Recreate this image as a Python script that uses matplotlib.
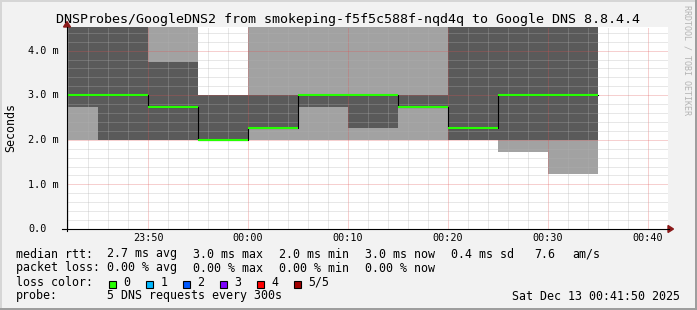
import matplotlib
matplotlib.use("Agg")
import matplotlib.pyplot as plt
from matplotlib import transforms
from matplotlib.lines import Line2D
from matplotlib.patches import Rectangle, Polygon

# 5 min steps, minutes relative to 00:00 (first step starts left of the graph)
step_edges = [-20, -15, -10, -5, 0, 5, 10, 15, 20, 25, 30, 35]
# sorted pings per step in ms (4.8 = above the top of the graph)
ping1 = [2.00, 2.00, 2.00, 2.00, 2.00, 2.00, 2.00, 2.00, 2.00, 1.73, 1.24]
ping2 = [2.73, 2.00, 2.00, 2.00, 2.26, 2.73, 2.26, 2.73, 2.00, 2.00, 2.00]
median = [3.00, 3.00, 2.73, 2.00, 2.26, 3.00, 3.00, 2.73, 2.26, 3.00, 3.00]
ping4 = [4.80, 4.80, 3.75, 3.00, 3.00, 3.00, 3.00, 3.00, 4.80, 4.80, 4.80]
ping5 = [4.80, 4.80, 4.80, 3.00, 4.80, 4.80, 4.80, 4.80, 4.80, 4.80, 4.80]

x_ticks = [-10, 0, 10, 20, 30, 40]
x_labels = ["23:50", "00:00", "00:10", "00:20", "00:30", "00:40"]
y_ticks = [0, 1, 2, 3, 4]
y_labels = ["0.0", "1.0 m", "2.0 m", "3.0 m", "4.0 m"]

title = "DNSProbes/GoogleDNS2 from smokeping-f5f5c588f-nqd4q to Google DNS 8.8.4.4"
rtt_stats = ["2.7 ms avg", "3.0 ms max", "2.0 ms min", "3.0 ms now", "0.4 ms sd", "7.6", "am/s"]
loss_stats = ["0.00 % avg", "0.00 % max", "0.00 % min", "0.00 % now"]
loss_labels = ["0", "1", "2", "3", "4", "5/5"]
loss_colors = ["#26ff00", "#00b8ff", "#0059ff", "#7e00ff", "#ff0000", "#a10000"]
probe_text = "5 DNS requests every 300s"
date_text = "Sat Dec 13 00:41:50 2025"

MONO = "DejaVu Sans Mono"
W, H = 697, 310


def fx(px):
    return px / W


def fy(py):
    return 1 - py / H


fig = plt.figure(figsize=(6.97, 3.10), dpi=100, facecolor="#f2f2f2")
ax = fig.add_axes([fx(67), fy(229), (668 - 67) / W, (229 - 27) / H])
ax.set_facecolor("white")
ax.set_xlim(-18.1, 42.0)
ax.set_ylim(0, 4.53)


def ext(v):
    return list(v) + [v[-1]]


# smoke
ax.fill_between(step_edges, ext(ping1), ext(ping5), step="post",
                color="#a2a2a2", lw=0, zorder=1)
ax.fill_between(step_edges, ext(ping2), ext(ping4), step="post",
                color="#5a5a5a", lw=0, zorder=1.1)

# median line
ax.step(step_edges, ext(median), where="post", color="black", lw=0.8, zorder=3)
ax.hlines(median, step_edges[:-1], step_edges[1:], color="#26ff00", lw=1.5, zorder=4)

# grid
ax.set_xticks(x_ticks)
ax.set_xticks(range(-18, 43, 2), minor=True)
ax.set_yticks(y_ticks)
ax.set_yticks([i * 0.2 for i in range(23)], minor=True)
ax.set_axisbelow(False)
ax.grid(which="minor", color="#b0b0b0", alpha=0.6, lw=0.72, linestyle=(0, (1, 1)))
ax.grid(which="major", color="#e05050", alpha=0.55, lw=0.72, linestyle=(0, (1, 1)))
ax.tick_params(which="both", length=0, labelbottom=False, labelleft=False)
for s in ax.spines.values():
    s.set_visible(False)

# axis lines + arrows
fig.add_artist(Line2D([fx(62), fx(669)], [fy(229), fy(229)], color="black", lw=0.8))
fig.add_artist(Line2D([fx(67), fx(67)], [fy(231), fy(27)], color="black", lw=0.8))
fig.add_artist(Polygon([[fx(668), fy(225.5)], [fx(668), fy(232.5)], [fx(673.5), fy(229)]],
                       closed=True, transform=fig.transFigure, color="#8b1a1a"))
fig.add_artist(Polygon([[fx(63.5), fy(27)], [fx(70.5), fy(27)], [fx(67), fy(21.5)]],
                       closed=True, transform=fig.transFigure, color="#8b1a1a"))

# tick labels
ytr = transforms.offset_copy(transforms.blended_transform_factory(fig.transFigure, ax.transData),
                             fig=fig, y=-3.2, units="dots")
for v, lab in zip(y_ticks, y_labels):
    ax.text(fx(28.5), v, lab, transform=ytr, ha="left", va="baseline",
            fontsize=7.3, family=MONO, clip_on=False)
xtr = transforms.blended_transform_factory(ax.transData, fig.transFigure)
for t, lab in zip(x_ticks, x_labels):
    ax.text(t, fy(240.7), lab, transform=xtr, ha="center", va="baseline",
            fontsize=7.3, family=MONO, clip_on=False)

fig.text(fx(348), fy(23.5), title, ha="center", va="baseline", fontsize=9.6, family=MONO)
fig.text(fx(10.5), fy(127.5), "Seconds", rotation=90, ha="center", va="center",
         fontsize=8.4, family=MONO)
fig.text(fx(687.5), fy(60), "RRDTOOL / TOBI OETIKER", rotation=270, ha="center",
         va="center", fontsize=6, family=MONO, color="#b4b4b4")

# legend
cols = [107, 193, 279, 365, 451, 534, 572]
rows = [257.5, 271.5, 285.5, 299.5]
fig.text(fx(15.5), fy(rows[0]), "median rtt:", va="baseline", fontsize=8.4, family=MONO)
for cx, s in zip(cols, rtt_stats):
    fig.text(fx(cx), fy(rows[0]), s, va="baseline", fontsize=8.4, family=MONO)
fig.text(fx(15.5), fy(rows[1]), "packet loss:", va="baseline", fontsize=8.4, family=MONO)
for cx, s in zip(cols, loss_stats):
    fig.text(fx(cx), fy(rows[1]), s, va="baseline", fontsize=8.4, family=MONO)
fig.text(fx(15.5), fy(rows[2]), "loss color:", va="baseline", fontsize=8.4, family=MONO)
for i, (lab, col) in enumerate(zip(loss_labels, loss_colors)):
    bx = 108.7 + i * 37
    fig.add_artist(Rectangle((fx(bx), fy(288)), 7.5 / W, 7.5 / H, transform=fig.transFigure,
                             facecolor=col, edgecolor="black", lw=0.8))
    fig.text(fx(bx + 14.5), fy(rows[2]), lab, va="baseline", fontsize=8.4, family=MONO)
fig.text(fx(15.5), fy(rows[3]), "probe:", va="baseline", fontsize=8.4, family=MONO)
fig.text(fx(cols[0]), fy(rows[3]), probe_text, va="baseline", fontsize=8.4, family=MONO)
fig.text(fx(680.5), fy(rows[3]), date_text, ha="right", va="baseline", fontsize=8.4, family=MONO)

# frame shading
fig.add_artist(Rectangle((0, 1 - 2 / H), 1, 2 / H, transform=fig.transFigure, color="#d6d6d6", lw=0))
fig.add_artist(Rectangle((0, 0), 2 / W, 1, transform=fig.transFigure, color="#d6d6d6", lw=0))
fig.add_artist(Rectangle((0, 0), 1, 2.5 / H, transform=fig.transFigure, color="#9e9e9e", lw=0))
fig.add_artist(Rectangle((1 - 2.5 / W, 0), 2.5 / W, 1, transform=fig.transFigure, color="#9e9e9e", lw=0))

fig.savefig("out.png", dpi=100, facecolor=fig.get_facecolor())
